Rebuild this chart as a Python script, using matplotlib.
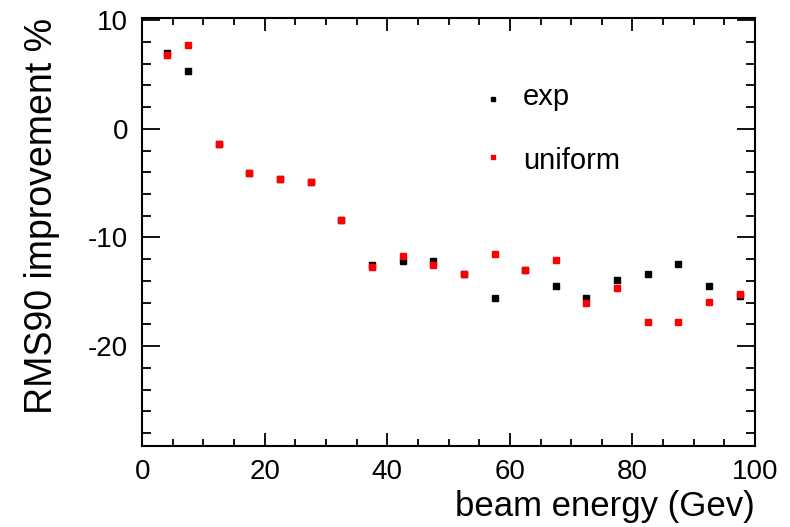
import matplotlib
matplotlib.use("Agg")
import matplotlib.pyplot as plt
from matplotlib import font_manager
from matplotlib.ticker import MultipleLocator

plt.rcParams['font.family'] = ['Liberation Sans', 'DejaVu Sans']
plt.rcParams['axes.unicode_minus'] = False

# beam energies (GeV) and RMS90 improvement (%)
energy = [4, 7.5, 12.5, 17.5, 22.5, 27.5, 32.5, 37.5, 42.5, 47.5,
          52.5, 57.5, 62.5, 67.5, 72.5, 77.5, 82.5, 87.5, 92.5, 97.5]
exp_vals = [6.95, 5.35, -1.4, -4.1, -4.6, -4.9, -8.4, -12.5, -12.15, -12.2,
            -13.35, -15.6, -13.0, -14.45, -15.55, -13.9, -13.35, -12.45, -14.45, -15.4]
uniform_vals = [6.8, 7.7, -1.4, -4.1, -4.6, -4.9, -8.4, -12.7, -11.75, -12.5,
                -13.35, -11.55, -13.0, -12.1, -16.05, -14.7, -17.75, -17.75, -15.95, -15.25]

# tick labels in the original look condensed
try:
    font_manager.findfont('Liberation Sans Narrow', fallback_to_default=False)
    tick_family, tick_size = 'Liberation Sans Narrow', 21
except ValueError:
    tick_family, tick_size = 'Liberation Sans', 20

fig = plt.figure(figsize=(7.9, 5.27), dpi=100)
ax = fig.add_axes([0.18, 0.1537, 0.7757, 0.8121])

ax.plot(energy, exp_vals, 's', color='black', markersize=4.3, linestyle='none')
ax.plot(energy, uniform_vals, 's', color='red', markersize=4.3, linestyle='none')

ax.set_xlim(0, 100)
ax.set_ylim(-29.2, 10.2)
ax.xaxis.set_major_locator(MultipleLocator(20))
ax.xaxis.set_minor_locator(MultipleLocator(5))
ax.yaxis.set_major_locator(MultipleLocator(10))
ax.yaxis.set_minor_locator(MultipleLocator(2))

ax.tick_params(axis='both', which='both', direction='in', top=True, right=True,
               width=1.3, labelsize=tick_size, labelfontfamily=tick_family)
ax.tick_params(axis='y', which='major', length=13, pad=10)
ax.tick_params(axis='y', which='minor', length=6.5)
ax.tick_params(axis='x', which='major', length=9.5, pad=9)
ax.tick_params(axis='x', which='minor', length=5)
for s in ax.spines.values():
    s.set_linewidth(1.5)

ax.set_xlabel('beam energy (Gev)', fontsize=25, loc='right')
ax.set_ylabel('RMS90 improvement %', fontsize=27, loc='top')
ax.xaxis.set_label_coords(1.0, -0.103)
ax.yaxis.set_label_coords(-0.134, 1.0)

# legend (ROOT-style, no frame)
ax.plot([57.2], [2.76], 's', color='black', markersize=2.3)
ax.plot([57.2], [-2.58], 's', color='red', markersize=2.3)
ax.text(62.1, 2.2, 'exp', fontsize=21, va='baseline', ha='left')
ax.text(62.1, -3.7, 'uniform', fontsize=21, va='baseline', ha='left')

fig.savefig('out.png', dpi=100)
